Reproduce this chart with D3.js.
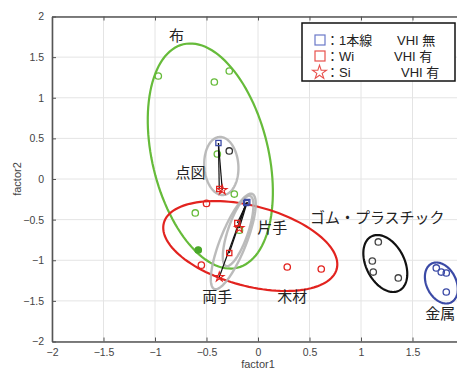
<!DOCTYPE html>
<html>
<head>
<meta charset="utf-8">
<script src="https://cdn.jsdelivr.net/npm/d3@7"></script>
<style>
  html, body { margin: 0; padding: 0; background: #fff; }
  svg { display: block; }
  text { font-family: "Liberation Sans", "Noto Sans", sans-serif; }
  .jp { font-family: "Liberation Sans", "Noto Sans CJK JP", sans-serif; }
</style>
</head>
<body>
<svg id="chart" width="457" height="370"></svg>
<script>
// Axis ticks
const xTicks = [-2, -1.5, -1, -0.5, 0, 0.5, 1, 1.5, 2];
const yTicks = [-2, -1.5, -1, -0.5, 0, 0.5, 1, 1.5, 2];

// Individual samples per material (factor1, factor2)
const clothPts   = [[-0.968, 1.268], [-0.424, 1.194], [-0.279, 1.329], [-0.395, 0.308],
                    [-0.230, -0.185], [-0.609, -0.418], [-0.180, -0.630]];
const clothMean  = [[-0.580, -0.874]];
const dotPts     = [[-0.279, 0.345]];
const woodPts    = [[-0.500, -0.300], [-0.550, -1.060], [0.284, -1.083], [0.614, -1.108]];
const rubberPts  = [[1.168, -0.775], [1.110, -1.009], [1.119, -1.145], [1.362, -1.218]];
const metalPts   = [[1.731, -1.095], [1.779, -1.145], [1.828, -1.157], [1.828, -1.391]];

// Conditions: 1本線 (VHI無), Wi (VHI有), Si (VHI有) for each drawing task
const taskNames  = ["点図", "片手", "両手"];
const singleLine = [[-0.384, 0.443], [-0.104, -0.283], [-0.114, -0.295]];
const wiPts      = [[-0.376, -0.123], [-0.201, -0.542], [-0.279, -0.911]];
const siPts      = [[-0.347, -0.135], [-0.182, -0.603], [-0.376, -1.206]];

// Spread ellipses: centre, half-axis vector u, half-axis vector v (data units)
const ellipseNames   = ["布", "木材", "ゴム・プラスチック", "金属", "点図", "片手", "両手"];
const ellipseCenters = [[-0.463, 0.283], [-0.075, -0.825], [1.236, -1.040], [1.780, -1.280],
                        [-0.356, 0.160], [-0.193, -0.640], [-0.240, -0.769]];
const ellipseU       = [[0.262, -1.375], [0.839, -0.284], [0.134, -0.334], [0.094, -0.239],
                        [0.019, -0.357], [-0.117, -0.431], [-0.184, -0.585]];
const ellipseV       = [[0.548, 0.167], [-0.101, -0.475], [0.166, 0.107], [0.129, 0.081],
                        [0.165, 0.015], [0.092, -0.040], [0.117, -0.059]];
const ellipseColors  = ["#66bb3a", "#e2231f", "#111111", "#3b4aa6", "#b4b4b4", "#b4b4b4", "#b4b4b4"];

// Category labels
const labelTexts = ["布", "点図", "片手", "両手", "木材", "ゴム・プラスチック", "金属"];
const labelPos   = [[-0.79, 1.77], [-0.655, 0.086], [0.139, -0.603], [-0.395, -1.452],
                    [0.333, -1.452], [1.158, -0.468], [1.77, -1.65]];

const svg = d3.select("#chart");
const margin = { left: 52, top: 16.5 };
const plotW = 412, plotH = 325;

const x = d3.scaleLinear().domain([-2, 2]).range([margin.left, margin.left + plotW]);
const y = d3.scaleLinear().domain([-2, 2]).range([margin.top + plotH, margin.top]);

// grid
const grid = svg.append("g");
grid.selectAll("line.gx").data(xTicks).join("line")
  .attr("x1", d => x(d)).attr("x2", d => x(d))
  .attr("y1", y(-2)).attr("y2", y(2))
  .attr("stroke", "#e4e4e4").attr("stroke-width", 1);
grid.selectAll("line.gy").data(yTicks).join("line")
  .attr("y1", d => y(d)).attr("y2", d => y(d))
  .attr("x1", x(-2)).attr("x2", x(2))
  .attr("stroke", "#e4e4e4").attr("stroke-width", 1);

// axes (ticks point inward); the right edge of the frame runs past the canvas
const axisColor = "#555";
const fmt = d => d3.format("")(d).replace("-", "\u2212");
const xFmt = d => (x(d) + 8 > 457 ? "" : fmt(d));
const axBottom = svg.append("g").attr("transform", `translate(0,${y(-2)})`)
  .call(d3.axisBottom(x).tickValues(xTicks).tickSizeInner(-4).tickSizeOuter(0)
        .tickPadding(7).tickFormat(xFmt));
const axLeft = svg.append("g").attr("transform", `translate(${x(-2)},0)`)
  .call(d3.axisLeft(y).tickValues(yTicks).tickSizeInner(-4).tickSizeOuter(0)
        .tickPadding(8).tickFormat(fmt));
const axTop = svg.append("g").attr("transform", `translate(0,${y(2)})`)
  .call(d3.axisTop(x).tickValues(xTicks).tickSizeInner(-4).tickSizeOuter(0).tickFormat(""));
const axRight = svg.append("g").attr("transform", `translate(${x(2)},0)`)
  .call(d3.axisRight(y).tickValues(yTicks).tickSizeInner(-4).tickSizeOuter(0).tickFormat(""));
[axBottom, axLeft, axTop, axRight].forEach(g => {
  g.select(".domain").attr("stroke", axisColor).attr("stroke-width", 1.6);
  g.selectAll(".tick line").attr("stroke", axisColor);
  g.selectAll(".tick text").attr("fill", "#444").attr("font-size", 10.5)
    .attr("font-family", "Liberation Sans, sans-serif");
});

// axis titles
svg.append("text").attr("x", x(0)).attr("y", 368).attr("text-anchor", "middle")
  .attr("font-size", 11).attr("fill", "#444").text("factor1");
svg.append("text").attr("transform", `translate(21,${y(0)}) rotate(-90)`)
  .attr("text-anchor", "middle").attr("font-size", 11).attr("fill", "#444").text("factor2");

// ellipses
const ellipseLine = d3.line().x(d => x(d[0])).y(d => y(d[1])).curve(d3.curveLinearClosed);
const tSteps = d3.range(0, 120).map(i => i / 120 * 2 * Math.PI);
ellipseCenters.forEach((c, i) => {
  const u = ellipseU[i], v = ellipseV[i];
  const pts = tSteps.map(t => [c[0] + u[0] * Math.cos(t) + v[0] * Math.sin(t),
                               c[1] + u[1] * Math.cos(t) + v[1] * Math.sin(t)]);
  svg.append("path").attr("d", ellipseLine(pts))
    .attr("fill", "none").attr("stroke", ellipseColors[i])
    .attr("stroke-width", i >= 4 ? 2.4 : 2.2).attr("opacity", i >= 4 ? 0.9 : 1);
});

// sample circles
function circles(data, color, filled) {
  svg.append("g").selectAll("circle").data(data).join("circle")
    .attr("cx", d => x(d[0])).attr("cy", d => y(d[1])).attr("r", 3.2)
    .attr("fill", filled ? color : "none").attr("stroke", color).attr("stroke-width", 1.3);
}
circles(clothPts, "#66bb3a", false);
circles(clothMean, "#4aa82a", true);
circles(dotPts, "#333", false);
circles(woodPts, "#e2231f", false);
circles(rubberPts, "#444", false);
circles(metalPts, "#3b4aa6", false);

// condition trajectories
const traj = svg.append("g");
taskNames.forEach((name, i) => {
  [wiPts[i], siPts[i]].forEach(p => {
    traj.append("line")
      .attr("x1", x(singleLine[i][0])).attr("y1", y(singleLine[i][1]))
      .attr("x2", x(p[0])).attr("y2", y(p[1]))
      .attr("stroke", "#111").attr("stroke-width", 1.2);
  });
});
traj.selectAll("rect.s1").data(singleLine).join("rect")
  .attr("x", d => x(d[0]) - 2.6).attr("y", d => y(d[1]) - 2.6)
  .attr("width", 5.2).attr("height", 5.2)
  .attr("fill", "none").attr("stroke", "#3b4aa6").attr("stroke-width", 1.3);
traj.selectAll("rect.wi").data(wiPts).join("rect")
  .attr("x", d => x(d[0]) - 2.6).attr("y", d => y(d[1]) - 2.6)
  .attr("width", 5.2).attr("height", 5.2)
  .attr("fill", "none").attr("stroke", "#e2231f").attr("stroke-width", 1.3);
const star = d3.symbol().type(d3.symbolStar).size(28);
traj.selectAll("path.si").data(siPts).join("path")
  .attr("d", star).attr("transform", d => `translate(${x(d[0])},${y(d[1])})`)
  .attr("fill", "none").attr("stroke", "#e2231f").attr("stroke-width", 1.1);

// category labels
svg.append("g").selectAll("text").data(labelTexts).join("text")
  .attr("class", "jp")
  .attr("x", (d, i) => x(labelPos[i][0])).attr("y", (d, i) => y(labelPos[i][1]))
  .attr("text-anchor", "middle").attr("dominant-baseline", "central")
  .attr("font-size", 15).attr("fill", "#222").text(d => d);

// legend
const lg = svg.append("g");
lg.append("rect").attr("x", 302).attr("y", 23).attr("width", 153).attr("height", 58)
  .attr("fill", "#fff").attr("stroke", "#111").attr("stroke-width", 1.5);
const legendColors = ["#6a78c8", "#e8504c", "#e8504c"];
const legendLabels = ["：1本線", "：Wi", "：Si"];
const legendVHI = ["VHI 無", "VHI 有", "VHI 有"];
const legendVHIx = [397, 394, 401];
const rowY = [40, 56, 72];
rowY.forEach((ry, i) => {
  if (i < 2) {
    lg.append("rect").attr("x", 315).attr("y", ry - 5).attr("width", 10).attr("height", 10)
      .attr("fill", "none").attr("stroke", legendColors[i]).attr("stroke-width", 1.2);
  } else {
    lg.append("path").attr("d", d3.symbol().type(d3.symbolStar).size(60))
      .attr("transform", `translate(319.5,${ry + 0.5})`)
      .attr("fill", "none").attr("stroke", legendColors[i]).attr("stroke-width", 1.1);
  }
  lg.append("text").attr("class", "jp").attr("x", 326).attr("y", ry)
    .attr("dominant-baseline", "central").attr("font-size", 13).attr("fill", "#222")
    .text(legendLabels[i]);
  lg.append("text").attr("class", "jp").attr("x", legendVHIx[i]).attr("y", ry)
    .attr("dominant-baseline", "central").attr("font-size", 13).attr("fill", "#222")
    .text(legendVHI[i]);
});
</script>
</body>
</html>
